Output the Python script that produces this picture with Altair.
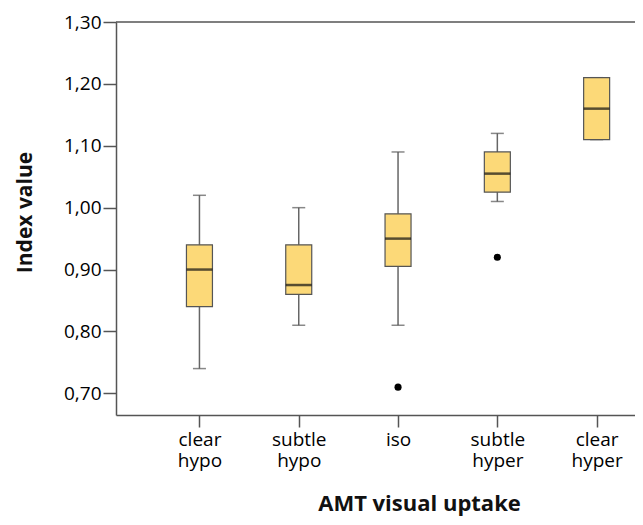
import json
import altair as alt
import pandas as pd

categories = ["clear hypo", "subtle hypo", "iso", "subtle hyper", "clear hyper"]
whisker_low = [0.74, 0.81, 0.81, 1.01, 1.11]
q1 = [0.84, 0.86, 0.905, 1.025, 1.11]
median = [0.90, 0.875, 0.95, 1.055, 1.16]
q3 = [0.94, 0.94, 0.99, 1.09, 1.21]
whisker_high = [1.02, 1.00, 1.09, 1.12, 1.21]
outlier_cat = ["iso", "subtle hyper"]
outlier_val = [0.71, 0.92]
y_ticks = [0.70, 0.80, 0.90, 1.00, 1.10, 1.20, 1.30]

box = pd.DataFrame({
    "idx": list(range(len(categories))),
    "cat": categories,
    "low": whisker_low,
    "q1": q1,
    "med": median,
    "q3": q3,
    "high": whisker_high,
})
out = pd.DataFrame({
    "idx": [categories.index(c) for c in outlier_cat],
    "val": outlier_val,
})

label_expr = " : ".join(
    f"datum.value == {i} ? {json.dumps(c.split(' '))}" for i, c in enumerate(categories)
) + " : ''"

FONT = "Open Sans"
AX = "#555555"

# plot spans 116..635 on the page; category centres at 196 + 101.25*i
x_scale = alt.Scale(domain=[-0.79, 4.336], nice=False, zero=False)
y_scale = alt.Scale(domain=[0.665, 1.30], nice=False, zero=False)

x_axis = alt.Axis(
    values=list(range(len(categories))), labelExpr=label_expr, grid=False,
    tickSize=12, tickColor=AX, tickWidth=1.5, domainColor=AX, domainWidth=1.5,
    labelFont=FONT, labelFontSize=19, labelLineHeight=21, labelColor="#000000",
    labelPadding=3, title="AMT visual uptake", titleFont=FONT, titleFontSize=22,
    titleFontWeight="bold", titleColor="#111111", titleX=303, titleY=95,
    titleBaseline="alphabetic", titleAlign="center",
)
y_axis = alt.Axis(
    values=y_ticks, labelExpr="replace(format(datum.value, '.2f'), '.', ',')",
    grid=False, tickSize=13, tickColor=AX, tickWidth=1.5, domainColor=AX,
    domainWidth=1.5, labelFont=FONT, labelFontSize=19, labelColor="#000000",
    labelPadding=2, title="Index value", titleFont=FONT, titleFontSize=21,
    titleFontWeight="bold", titleColor="#111111", titleAngle=270,
    titleX=-91, titleY=190, titleBaseline="middle", titleAlign="center",
)

base = alt.Chart(box)

whisk = base.mark_rule(color="#666666", strokeWidth=1.5).encode(
    x=alt.X("idx:Q", scale=x_scale, axis=x_axis),
    y=alt.Y("low:Q", scale=y_scale, axis=y_axis),
    y2="high:Q",
)
cap_lo = base.mark_tick(orient="horizontal", size=13, thickness=1.5, color="#555555").encode(
    x="idx:Q", y="low:Q")
cap_hi = base.mark_tick(orient="horizontal", size=13, thickness=1.5, color="#555555").encode(
    x="idx:Q", y="high:Q")
boxes = base.mark_bar(size=26, fill="#FCD978", stroke="#555555", strokeWidth=1.2).encode(
    x="idx:Q", y="q1:Q", y2="q3:Q")
med = base.mark_tick(orient="horizontal", size=26, thickness=2.5, color="#111111").encode(
    x="idx:Q", y="med:Q")
pts = alt.Chart(out).mark_circle(size=50, color="#000000", opacity=1).encode(
    x="idx:Q", y="val:Q")
top = alt.Chart(pd.DataFrame({"v": [y_ticks[-1]]})).mark_rule(color=AX, strokeWidth=1.5).encode(
    y="v:Q")

chart = alt.layer(whisk, cap_lo, cap_hi, boxes, med, pts, top).properties(
    width=519, height=393,
    autosize=alt.AutoSizeParams(type="none"),
    padding={"left": 108, "top": 14, "right": 0, "bottom": 102},
).configure_view(stroke=None)

chart.save("out.html", embed_options={"renderer": "svg", "actions": False})
